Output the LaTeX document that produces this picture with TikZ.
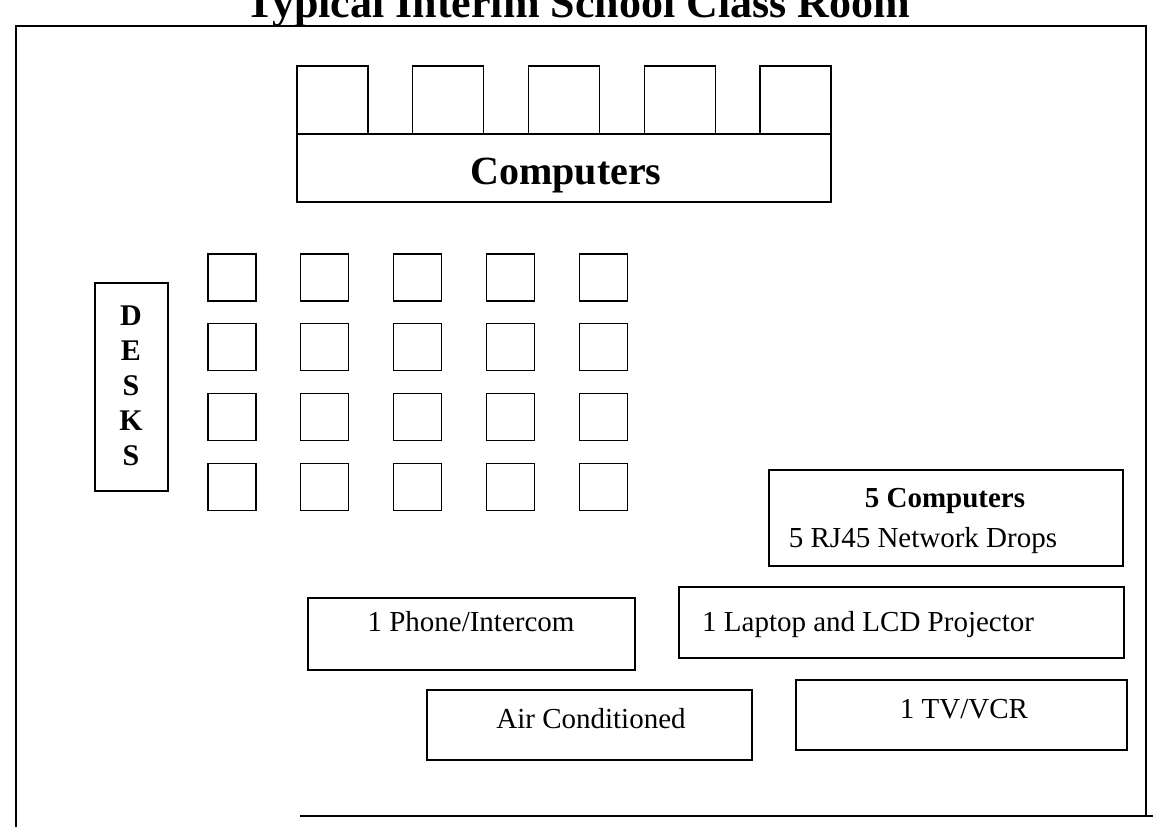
\documentclass[tikz,border=0pt]{standalone}
\usepackage{fontspec}
\setmainfont{Liberation Serif}
\begin{document}
\begin{tikzpicture}[x=1pt,y=-1pt,
		room/.style={line width=1.3pt},
		box/.style={line width=1.1pt},
		lbl/.style={font=\fontsize{29}{34}\selectfont, inner sep=0pt, anchor=base}]
			\clip (0,0) rectangle (1153,827);
			\node[anchor=base, inner sep=0pt, font=\bfseries\fontsize{44}{50}\selectfont] (title) at (578,17) {Typical Interim School Class Room};
			\draw[room] (16,827) -- (16,26) -- (1146,26) -- (1146,816);
			\draw[room] (300,816) -- (1153,816);
			\foreach \i in {0,...,4}
				\draw[box] ({297+115.75*\i},66) rectangle ++(71,68);
			\draw[box] (297,134) rectangle (831,202);
			\node[lbl, font=\bfseries\fontsize{40}{46}\selectfont] (computers) at (566,184) {Computers};
			\foreach \c in {0,...,4}
				\foreach \r in {0,...,3}
					\draw[box] ({208+92.8*\c},{254+69.7*\r}) rectangle ++(48,47);
			\draw[box] (95,283) rectangle (168,491);
			\foreach \l [count=\k] in {D,E,S,K,S}
				\node[lbl, font=\bfseries\fontsize{30}{30}\selectfont] (desk\k) at (131,{290+35*\k}) {\l};
			\draw[box] (769,470) rectangle (1123,566);
			\node[lbl, font=\bfseries\fontsize{29}{34}\selectfont] (fivepc) at (945,507) {5 Computers};
			\node[lbl] (drops) at (923,547) {5 RJ45 Network Drops};
			\draw[box] (308,598) rectangle (635,670);
			\node[lbl] (phone) at (471,631) {1 Phone/Intercom};
			\draw[box] (679,587) rectangle (1124,658);
			\node[lbl, anchor=base west] (laptop) at (702,631) {1 Laptop and LCD Projector};
			\draw[box] (427,690) rectangle (752,760);
			\node[lbl] (air) at (591,728) {Air Conditioned};
			\draw[box] (796,680) rectangle (1127,750);
			\node[lbl] (tv) at (964,718) {1 TV/VCR};
		\end{tikzpicture}
\end{document}
